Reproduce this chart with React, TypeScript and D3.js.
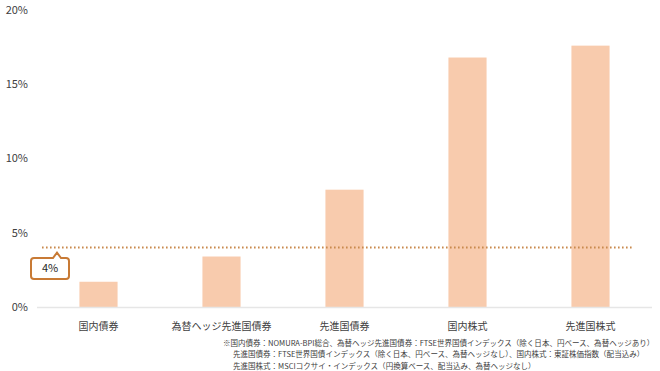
import React, { useEffect, useRef } from 'react'
import * as d3 from 'd3'

const categories = ['国内債券', '為替ヘッジ先進国債券', '先進国債券', '国内株式', '先進国株式']
const values = [1.7, 3.4, 7.9, 16.8, 17.6]
const yTicks = [0, 5, 10, 15, 20]
const targetLine = 4
const footnotes = [
  '※国内債券：NOMURA-BPI総合、為替ヘッジ先進国債券：FTSE世界国債インデックス（除く日本、円ベース、為替ヘッジあり）',
  '先進国債券：FTSE世界国債インデックス（除く日本、円ベース、為替ヘッジなし）、国内株式：東証株価指数（配当込み）',
  '先進国株式：MSCIコクサイ・インデックス（円換算ベース、配当込み、為替ヘッジなし）',
]

const font = '"Noto Sans CJK JP", "Noto Sans", sans-serif'

export default function App() {
  const svgRef = useRef<SVGSVGElement>(null)

  useEffect(() => {
    if (!svgRef.current) return
    const svg = d3.select(svgRef.current)
    svg.selectAll('*').remove()

    const x = d3
      .scaleBand<string>()
      .domain(categories)
      .range([37, 652])
      .paddingInner(0.69)
      .paddingOuter(0.345)

    const y = d3.scaleLinear().domain([0, 20]).range([307, 10])

    // y tick labels
    svg
      .append('g')
      .selectAll('text')
      .data(yTicks)
      .join('text')
      .attr('x', 28)
      .attr('y', (d) => y(d))
      .attr('dy', '0.35em')
      .attr('text-anchor', 'end')
      .style('font-family', font)
      .style('font-size', '11px')
      .style('fill', '#404040')
      .text((d) => `${d}%`)

    // bars
    svg
      .append('g')
      .selectAll('rect')
      .data(values)
      .join('rect')
      .attr('x', (_, i) => x(categories[i]) as number)
      .attr('width', x.bandwidth())
      .attr('y', (d) => y(d))
      .attr('height', (d) => y(0) - y(d))
      .attr('fill', '#f8cbad')

    // baseline
    svg
      .append('line')
      .attr('x1', 37)
      .attr('x2', 652)
      .attr('y1', y(0) + 0.5)
      .attr('y2', y(0) + 0.5)
      .attr('stroke', '#e6e6e6')
      .attr('stroke-width', 1.5)

    // 4% dotted line
    svg
      .append('line')
      .attr('x1', 42)
      .attr('x2', 632)
      .attr('y1', y(targetLine))
      .attr('y2', y(targetLine))
      .attr('stroke', '#c98a4e')
      .attr('stroke-width', 2)
      .attr('stroke-dasharray', '1.6 2.4')

    // callout box
    const bx = 31
    const by = 258
    const bw = 38
    const bh = 21
    const px = 57
    const tipY = y(targetLine) + 5
    const r = 3
    const path = d3.path()
    path.moveTo(bx + r, by)
    path.lineTo(px - 4, by)
    path.lineTo(px, tipY)
    path.lineTo(px + 4, by)
    path.lineTo(bx + bw - r, by)
    path.quadraticCurveTo(bx + bw, by, bx + bw, by + r)
    path.lineTo(bx + bw, by + bh - r)
    path.quadraticCurveTo(bx + bw, by + bh, bx + bw - r, by + bh)
    path.lineTo(bx + r, by + bh)
    path.quadraticCurveTo(bx, by + bh, bx, by + bh - r)
    path.lineTo(bx, by + r)
    path.quadraticCurveTo(bx, by, bx + r, by)
    path.closePath()
    svg
      .append('path')
      .attr('d', path.toString())
      .attr('fill', '#ffffff')
      .attr('stroke', '#c87a35')
      .attr('stroke-width', 2)
    svg
      .append('text')
      .attr('x', bx + bw / 2)
      .attr('y', by + bh / 2)
      .attr('dy', '0.35em')
      .attr('text-anchor', 'middle')
      .style('font-family', font)
      .style('font-size', '11px')
      .style('fill', '#262626')
      .text(`${targetLine}%`)

    // category labels
    svg
      .append('g')
      .selectAll('text')
      .data(categories)
      .join('text')
      .attr('x', (d) => (x(d) as number) + x.bandwidth() / 2)
      .attr('y', 326)
      .attr('dy', '0.35em')
      .attr('text-anchor', 'middle')
      .style('font-family', font)
      .style('font-size', '10px')
      .style('fill', '#404040')
      .text((d) => d)

    // footnotes: first line sets the size so it fits between x=223 and x=656
    const notes = svg
      .append('g')
      .selectAll<SVGTextElement, string>('text')
      .data(footnotes)
      .join('text')
      .attr('x', (_, i) => (i === 0 ? 223 : 233))
      .attr('y', (_, i) => 343 + i * 11.5)
      .attr('dy', '0.35em')
      .style('font-family', font)
      .style('font-size', '8.5px')
      .style('fill', '#404040')
      .text((d) => d)

    const first = notes.nodes()[0]
    const len = first.getComputedTextLength()
    const size = len > 0 ? Math.min(8.5, (8.5 * 432) / len) : 7.6
    notes.style('font-size', `${size}px`)
  }, [])

  return (
    <svg
      ref={svgRef}
      width={660}
      height={371}
      style={{ position: 'absolute', left: 0, top: 0, background: '#fff' }}
    />
  )
}
